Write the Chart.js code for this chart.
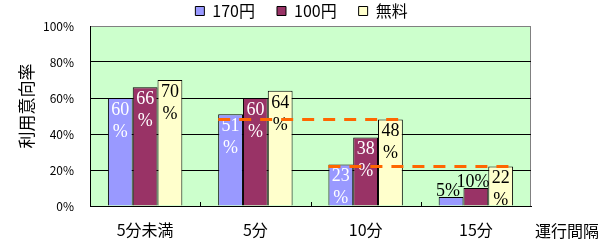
<!DOCTYPE html>
<html>
<head>
<meta charset="utf-8">
<script src="https://cdn.jsdelivr.net/npm/chart.js@4"></script>
<style>
  body { margin: 0; background: #fff; }
  #wrap { width: 606px; height: 248px; }
</style>
</head>
<body>
<div id="wrap"><canvas id="myChart" width="606" height="248"></canvas></div>
<script>
// 運行間隔ごとの利用意向率
const categories = ['5分未満', '5分', '10分', '15分'];
const fare170 = [60, 51, 23, 5];
const fare100 = [66, 60, 38, 10];
const fareFree = [70, 64, 48, 22];
const seriesNames = ['170円', '100円', '無料'];
const yTicks = [0, 20, 40, 60, 80, 100];

const jp = '"Noto Sans CJK JP", "Noto Sans", sans-serif';

// green plot background + gray frame
const plotBg = {
    id: 'plotBg',
    beforeDraw(chart) {
        const { ctx, chartArea: a } = chart;
        ctx.save();
        ctx.fillStyle = '#ccffcc';
        ctx.fillRect(a.left, a.top, a.right - a.left, a.bottom - a.top);
        ctx.strokeStyle = '#808080';
        ctx.lineWidth = 1;
        ctx.strokeRect(a.left + 0.5, a.top + 0.5, a.right - a.left - 1, a.bottom - a.top);
        ctx.restore();
    }
};

// legend: keep its box short, start it above the canvas so the row sits at y~13
const legendFit = {
    id: 'legendFit',
    beforeInit(chart) {
        const fit = chart.legend.fit;
        chart.legend.fit = function () {
            fit.bind(chart.legend)();
            this.height = 26;
        };
    },
    afterLayout(chart) {
        chart.legend.top -= 19;
        chart.legend.left += 36;
        chart.legend.right += 36;
    }
};

// value labels, dashed guide lines, inner ticks, axis names
const extras = {
    id: 'extras',
    afterDatasetsDraw(chart) {
        const { ctx, chartArea: a } = chart;
        const x = chart.scales.x, y = chart.scales.y;
        ctx.save();

        // small tick marks between categories
        ctx.strokeStyle = '#000';
        ctx.lineWidth = 1;
        for (let i = 1; i < categories.length; i++) {
            const px = Math.round((x.getPixelForValue(i - 1) + x.getPixelForValue(i)) / 2) + 0.5;
            ctx.beginPath();
            ctx.moveTo(px, a.bottom);
            ctx.lineTo(px, a.bottom - 4);
            ctx.stroke();
        }

        // labels
        ctx.font = '18px "Liberation Serif", serif';
        ctx.textAlign = 'center';
        chart.data.datasets.forEach((ds, di) => {
            const meta = chart.getDatasetMeta(di);
            meta.data.forEach((bar, i) => {
                const v = ds.data[i];
                const h = bar.base - bar.y;
                ctx.fillStyle = di === 2 ? '#000' : '#fff';
                if (h < 30) {
                    ctx.fillStyle = '#000';
                    ctx.textBaseline = 'bottom';
                    ctx.fillText(v + '%', bar.x - 3, bar.y + 3);
                } else {
                    ctx.textBaseline = 'middle';
                    ctx.fillText(String(v), bar.x, bar.y + 12);
                    ctx.fillText('%', bar.x, bar.y + 34);
                }
            });
        });

        // orange dashed lines at the next category's 無料 value
        const m0 = chart.getDatasetMeta(0), m2 = chart.getDatasetMeta(2);
        ctx.strokeStyle = '#ff6600';
        ctx.lineWidth = 3;
        ctx.setLineDash([12, 9]);
        for (let i = 1; i < categories.length - 1; i++) {
            const b0 = m0.data[i], b2 = m2.data[i + 1];
            const py = y.getPixelForValue(fareFree[i + 1]);
            ctx.beginPath();
            ctx.moveTo(b0.x - b0.width / 2, py);
            ctx.lineTo(b2.x + b2.width / 2, py);
            ctx.stroke();
        }
        ctx.setLineDash([]);

        // axis names
        ctx.fillStyle = '#000';
        ctx.font = '16px ' + jp;
        ctx.textAlign = 'left';
        ctx.textBaseline = 'middle';
        ctx.fillText('運行間隔', a.right + 4, 231);

        ctx.translate(27, 106);
        ctx.rotate(-Math.PI / 2);
        ctx.textAlign = 'center';
        ctx.font = '17px ' + jp;
        ctx.fillText('利用意向率', 0, 0);
        ctx.restore();
    }
};

const ctx = document.getElementById('myChart').getContext('2d');
const chart = new Chart(ctx, {
    type: 'bar',
    data: {
        labels: categories,
        datasets: [
            { label: seriesNames[0], data: fare170, backgroundColor: '#9999ff' },
            { label: seriesNames[1], data: fare100, backgroundColor: '#993366' },
            { label: seriesNames[2], data: fareFree, backgroundColor: '#ffffcc' }
        ].map(d => Object.assign(d, { borderColor: '#000', borderWidth: 1 }))
    },
    options: {
        responsive: false,
        animation: false,
        layout: { padding: { left: 0, right: 75, top: 0, bottom: 0 } },
        datasets: {
            bar: { categoryPercentage: 0.675, barPercentage: 1 }
        },
        plugins: {
            legend: {
                position: 'top',
                labels: {
                    boxWidth: 9,
                    boxHeight: 9,
                    padding: 22,
                    color: '#000',
                    font: { family: jp, size: 16 }
                }
            },
            tooltip: { enabled: false }
        },
        scales: {
            x: {
                grid: { display: false },
                border: { color: '#000' },
                ticks: { color: '#000', padding: 6, font: { family: jp, size: 16 } },
                afterFit(scale) { scale.height = 42; }
            },
            y: {
                min: 0,
                max: 100,
                afterBuildTicks(scale) { scale.ticks = yTicks.map(v => ({ value: v })); },
                grid: {
                    color: c => c.tick && c.tick.value === 100 ? '#808080' : '#000',
                    drawTicks: false
                },
                border: { color: '#000' },
                ticks: {
                    color: '#000',
                    padding: 16,
                    font: { family: jp, size: 12 },
                    callback: v => v + '%'
                },
                afterFit(scale) { scale.width = 90; }
            }
        }
    },
    plugins: [legendFit, plotBg, extras]
});
</script>
</body>
</html>
